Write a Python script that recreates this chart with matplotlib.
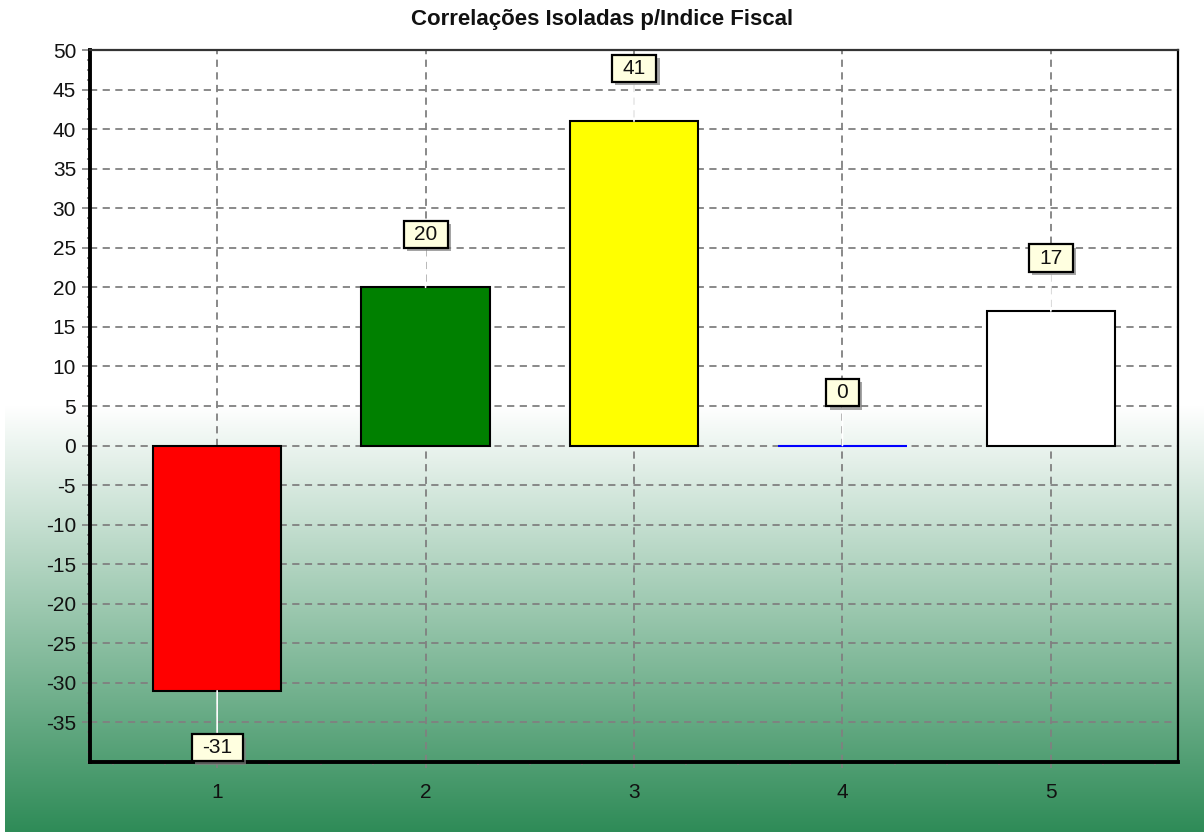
import numpy as np
import matplotlib
matplotlib.use("Agg")
import matplotlib.pyplot as plt
import matplotlib.patheffects as pe
from matplotlib.ticker import MultipleLocator

plt.rcParams['font.family'] = ['Liberation Sans', 'DejaVu Sans']
plt.rcParams['axes.unicode_minus'] = False

# dados
categorias = [1, 2, 3, 4, 5]
valores = [-31, 20, 41, 0, 17]
cores = ['#FF0000', '#008000', '#FFFF00', '#0000FF', '#FFFFFF']
titulo = 'Correlações Isoladas p/Indice Fiscal'
y_ticks = list(range(-35, 55, 5))

W, H = 1204, 832
fig = plt.figure(figsize=(W / 100, H / 100), dpi=100)

# fundo degradê (branco -> verde) desenhado num eixo que cobre a figura
bg = fig.add_axes([0, 0, 1, 1], zorder=-10)
linhas = np.arange(H)
t = np.clip((linhas - 405) / (H - 405), 0, 1)
branco = np.array([1.0, 1.0, 1.0])
verde = np.array([46, 139, 87]) / 255
grad = (1 - t)[:, None] * branco + t[:, None] * verde
img = np.repeat(grad[:, None, :], W, axis=1)
img[:, :5, :] = 1.0
bg.imshow(img, aspect='auto', extent=[0, W, H, 0])
bg.axis('off')

ax = fig.add_axes([90 / W, (H - 762) / H, (1178 - 90) / W, (762 - 50) / H])
ax.set_facecolor('none')

edge = ['#000000' if v != 0 else c for v, c in zip(valores, cores)]
ax.bar(categorias, valores, width=0.615, color=cores, edgecolor=edge,
       linewidth=1.5, zorder=3)

ax.set_xlim(0.39, 5.61)
ax.set_ylim(-40, 50)
ax.set_xticks(categorias)
ax.set_yticks(y_ticks)
ax.xaxis.set_minor_locator(MultipleLocator(0.25))
ax.yaxis.set_minor_locator(MultipleLocator(1.25))

ax.set_axisbelow(True)
ax.grid(True, which='major', color='#808080', linestyle=(0, (4, 3)), linewidth=1.3)

ax.tick_params(axis='both', which='major', colors='#808080', labelcolor='#111111',
               labelsize=15, width=1.2)
ax.tick_params(axis='y', which='major', length=6, pad=4)
ax.tick_params(axis='x', which='major', length=4, pad=11)
ax.tick_params(axis='both', which='minor', colors='#808080', length=2.5, width=1.2)

ax.spines['left'].set_linewidth(2.8)
ax.spines['bottom'].set_linewidth(2.8)
ax.spines['top'].set_linewidth(1.6)
ax.spines['top'].set_color('#333333')
ax.spines['right'].set_linewidth(1.6)

fig.text(0.5, 1 - 20 / H, titulo, ha='center', va='center', fontsize=16,
         fontweight='bold', color='#111111')


def caixa(x0, y0, width, height, mutation_size):
    px = 0.5 * mutation_size
    py = 0.2 * mutation_size
    x0, y0 = x0 - px, y0 - py
    x1, y1 = x0 + width + 2 * px, y0 + height + 2 * py
    return matplotlib.path.Path([(x0, y0), (x1, y0), (x1, y1), (x0, y1), (x0, y0)],
                                closed=True)


for x, v in zip(categorias, valores):
    dy = 53 if v >= 0 else -57
    an = ax.annotate(str(v), xy=(x, v), xytext=(0, dy), textcoords='offset pixels',
                     ha='center', va='center', fontsize=15, color='#111111',
                     bbox=dict(boxstyle=caixa, fc='#FFFFE0', ec='black', lw=1.6),
                     arrowprops=dict(arrowstyle='-', color='white', lw=1.2,
                                     shrinkA=0, shrinkB=0),
                     zorder=10, annotation_clip=False)
    an.get_bbox_patch().set_path_effects([
        pe.SimplePatchShadow(offset=(2.5, -2.5), shadow_rgbFace='#7f7f7f', alpha=0.7),
        pe.Normal()])

fig.savefig('out.png', dpi=100)
